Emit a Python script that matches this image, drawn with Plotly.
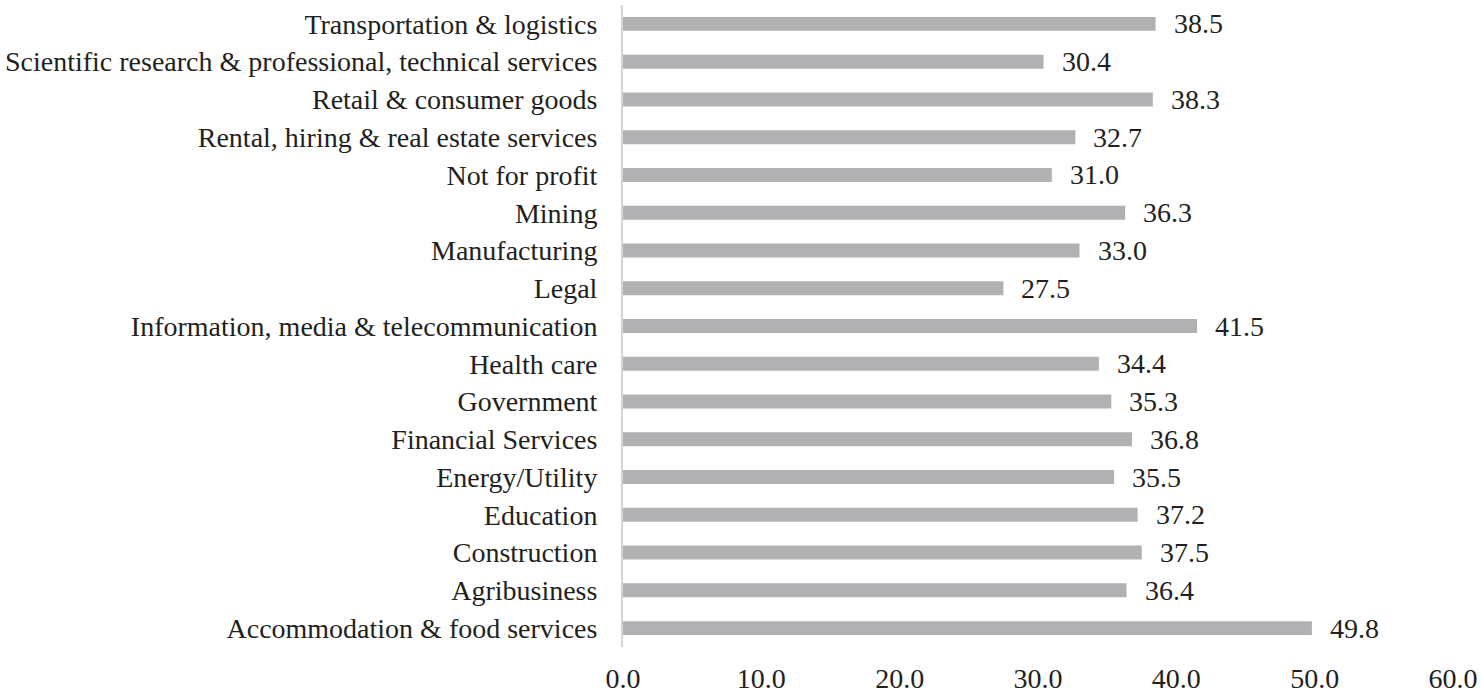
import plotly.graph_objects as go

categories = [
    "Accommodation & food services",
    "Agribusiness",
    "Construction",
    "Education",
    "Energy/Utility",
    "Financial Services",
    "Government",
    "Health care",
    "Information, media & telecommunication",
    "Legal",
    "Manufacturing",
    "Mining",
    "Not for profit",
    "Rental, hiring & real estate services",
    "Retail & consumer goods",
    "Scientific research & professional, technical services",
    "Transportation & logistics",
]
values = [49.8, 36.4, 37.5, 37.2, 35.5, 36.8, 35.3, 34.4, 41.5, 27.5, 33.0, 36.3, 31.0, 32.7, 38.3, 30.4, 38.5]
x_ticks = [0, 10, 20, 30, 40, 50, 60]

FONT = "Liberation Serif"
SIZE = 28
TXT = "#231f20"

fig = go.Figure(
    go.Bar(
        x=values,
        y=categories,
        orientation="h",
        marker=dict(color="#b1b1b3", line=dict(width=0)),
        width=0.37,
        hoverinfo="x+y",
    )
)

for v, c in zip(values, categories):
    fig.add_annotation(
        x=v, y=c, xref="x", yref="y",
        text=f"{v:.1f}",
        showarrow=False,
        xanchor="left", yanchor="middle",
        xshift=16,
        font=dict(family=FONT, size=SIZE, color=TXT),
    )

fig.update_layout(
    width=1481,
    height=694,
    margin=dict(l=623, r=28, t=5, b=47, autoexpand=False),
    paper_bgcolor="white",
    plot_bgcolor="white",
    showlegend=False,
    font=dict(family=FONT, size=SIZE, color=TXT),
)
fig.update_xaxes(
    range=[0, 60],
    tickvals=x_ticks,
    ticktext=[f"{t:.1f}" for t in x_ticks],
    showgrid=False,
    zeroline=False,
    showline=False,
    ticks="",
    automargin=False,
    ticklabelstandoff=12,
    tickfont=dict(family=FONT, size=SIZE, color=TXT),
)
fig.update_yaxes(
    categoryorder="array",
    categoryarray=categories,
    showgrid=False,
    zeroline=False,
    showline=True,
    linecolor="#d4d4d4",
    linewidth=2,
    ticks="",
    automargin=False,
    ticklabelstandoff=18,
    tickfont=dict(family=FONT, size=SIZE, color=TXT),
)

fig.write_html(
    "out.html",
    config={"displayModeBar": False},
    post_script="document.body.style.margin='0';document.body.style.overflow='hidden';",
)
